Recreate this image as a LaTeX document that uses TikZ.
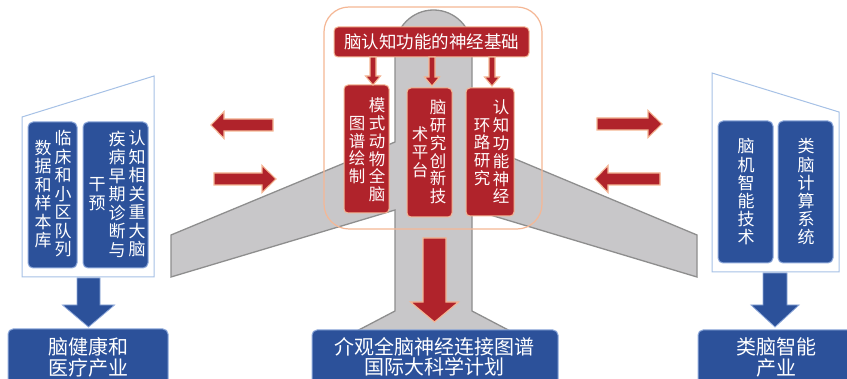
\documentclass[tikz,border=0pt]{standalone}
\usepackage{fontspec}
\newfontfamily\cjk{Noto Sans CJK SC}
\definecolor{planegray}{HTML}{C8C7C9}
\definecolor{planeedge}{HTML}{8E8E8E}
\definecolor{brickred}{HTML}{B0232B}
\definecolor{peach}{HTML}{F5B795}
\definecolor{navy}{HTML}{2C519A}
\definecolor{navyedge}{HTML}{8EA9DB}
\definecolor{skyline}{HTML}{A6C1E6}

% vertical block arrow: centre x, top y, tip y, shaft width, head width, head length, style
\newcommand\blkdownarrow[7]{%
  \filldraw[#7] (#1-#4/2,#2) -- (#1+#4/2,#2) -- (#1+#4/2,#3-#6) -- (#1+#5/2,#3-#6)
    -- (#1,#3) -- (#1-#5/2,#3-#6) -- (#1-#4/2,#3-#6) -- cycle;}
% horizontal block arrow: tip x, head base x, tail x, centre y, shaft height, head height, style
\newcommand\blkhorarrow[7]{%
  \filldraw[#7] (#3,#4-#5/2) -- (#2,#4-#5/2) -- (#2,#4-#6/2) -- (#1,#4)
    -- (#2,#4+#6/2) -- (#2,#4+#5/2) -- (#3,#4+#5/2) -- cycle;}

\begin{document}
\begin{tikzpicture}[x=1pt,y=-1pt,
  plane/.style={fill=planegray, draw=planeedge, line width=1.3pt, line join=miter},
  redarrow/.style={fill=brickred, draw=peach, line width=1.1pt, line join=miter},
  bluearrow/.style={fill=navy, draw=navyedge, line width=0.8pt, line join=miter},
  redbox/.style={fill=brickred, draw=peach, line width=1pt, rounded corners=4pt, inner sep=0pt},
  bluebox/.style={fill=navy, draw=navyedge, line width=1pt, rounded corners=5pt, inner sep=0pt},
  panel/.style={draw=skyline, line width=1pt, fill=white},
  vcol/.style={align=center, inner sep=0pt, text=white, font=\cjk\fontsize{17}{18.5}\selectfont},
  rcol/.style={align=center, inner sep=0pt, text=white!92!pink, font=\cjk\fontsize{16.5}{17.8}\selectfont},
  htext/.style={align=center, inner sep=0pt, text=white, font=\cjk\fontsize{20}{21}\selectfont}]

\clip (0,0) rectangle (847,379);
\fill[white] (0,0) rectangle (847,379);

% aircraft body, wings and tail
\filldraw[plane] (395,142) -- (395,48.5) arc[start angle=180, end angle=0, radius=38.5pt]
  -- (472,141) -- (697,235) -- (697,277) -- (472,209.5) -- (472,311) -- (535,344)
  -- (332,344) -- (395,311) -- (395,210) -- (171,277) -- (171,235) -- cycle;

% side panels
\filldraw[panel] (22,117) -- (154,76) -- (154,277) -- (22,277) -- cycle;
\filldraw[panel] (712,73) -- (839,112) -- (839,272) -- (712,272) -- cycle;

% central frame
\draw[peach, line width=1.2pt, rounded corners=25pt] (324,7) rectangle (542,229);

% top heading box
\node[redbox, minimum width=195pt, minimum height=30pt, text=white,
      font=\cjk\fontsize{17.5}{20}\selectfont] (base) at (431.5,42) {脑认知功能的神经基础};

% three research boxes
\node[redbox, minimum width=45pt, minimum height=128pt] (r1) at (366.5,149) {};
\node[redbox, minimum width=45pt, minimum height=129pt] (r2) at (429.5,152.5) {};
\node[redbox, minimum width=48pt, minimum height=128pt] (r3) at (490,152) {};

\node[rcol] (r1a) at (377,150) {模\\式\\动\\物\\全\\脑};
\node[rcol] (r1b) at (357,150) {图\\谱\\绘\\制};
\node[rcol] (r2a) at (438,152) {脑\\研\\究\\创\\新\\技};
\node[rcol] (r2b) at (420,152) {术\\平\\台};
\node[rcol] (r3a) at (501,152) {认\\知\\功\\能\\神\\经};
\node[rcol] (r3b) at (482,152) {环\\路\\研\\究};

% small arrows from heading to research boxes
\blkdownarrow{373}{57}{85}{6}{15}{9}{redarrow}
\blkdownarrow{432}{57}{86}{6}{15}{9}{redarrow}
\blkdownarrow{492}{57}{86}{6}{15}{9}{redarrow}

% left panel contents
\node[bluebox, minimum width=49pt, minimum height=146pt] (l1) at (52.5,195) {};
\node[bluebox, minimum width=65pt, minimum height=146pt] (l2) at (115.5,195) {};
\node[vcol] (l1a) at (63,194) {临\\床\\和\\小\\区\\队\\列};
\node[vcol] (l1b) at (43,194) {数\\据\\和\\样\\本\\库};
\node[vcol] (l2a) at (137,194) {认\\知\\相\\关\\重\\大\\脑};
\node[vcol] (l2b) at (117,194) {疾\\病\\早\\期\\诊\\断\\与};
\node[vcol] (l2c) at (97,194) {干\\预};

% right panel contents
\node[bluebox, minimum width=55pt, minimum height=142pt] (q1) at (745.5,192) {};
\node[bluebox, minimum width=55pt, minimum height=142pt] (q2) at (805.5,192) {};
\node[vcol, font=\cjk\fontsize{17}{18.2}\selectfont] (q1a) at (746,192) {脑\\机\\智\\能\\技\\术};
\node[vcol, font=\cjk\fontsize{17}{18.2}\selectfont] (q2a) at (806,192) {类\\脑\\计\\算\\系\\统};

% exchange arrows between centre and sides
\blkhorarrow{211}{224}{273}{125}{12}{27}{redarrow}
\blkhorarrow{276}{262}{214}{179}{12}{27}{redarrow}
\blkhorarrow{662}{648}{597}{124}{12}{27}{redarrow}
\blkhorarrow{595}{608}{660}{179}{12}{27}{redarrow}

% outcome arrows
\blkdownarrow{434.5}{238}{322}{23}{48}{20}{redarrow}
\blkdownarrow{88.5}{278}{327}{23}{52}{22}{bluearrow}
\blkdownarrow{775}{273}{327}{24}{48}{22}{bluearrow}

% outcome boxes
\node[bluebox, minimum width=160pt, minimum height=66pt] (o1) at (88,362) {};
\node[bluebox, minimum width=246pt, minimum height=66pt] (o2) at (435,363) {};
\node[bluebox, minimum width=158pt, minimum height=66pt] (o3) at (777,363) {};
\node[htext] (o1t) at (88.5,357.5) {脑健康和\\医疗产业};
\node[htext, font=\cjk\fontsize{20}{17}\selectfont] (o2t) at (434.5,356.5) {介观全脑神经连接图谱\\国际大科学计划};
\node[htext] (o3t) at (776,357.5) {类脑智能\\产业};

\end{tikzpicture}
\end{document}
